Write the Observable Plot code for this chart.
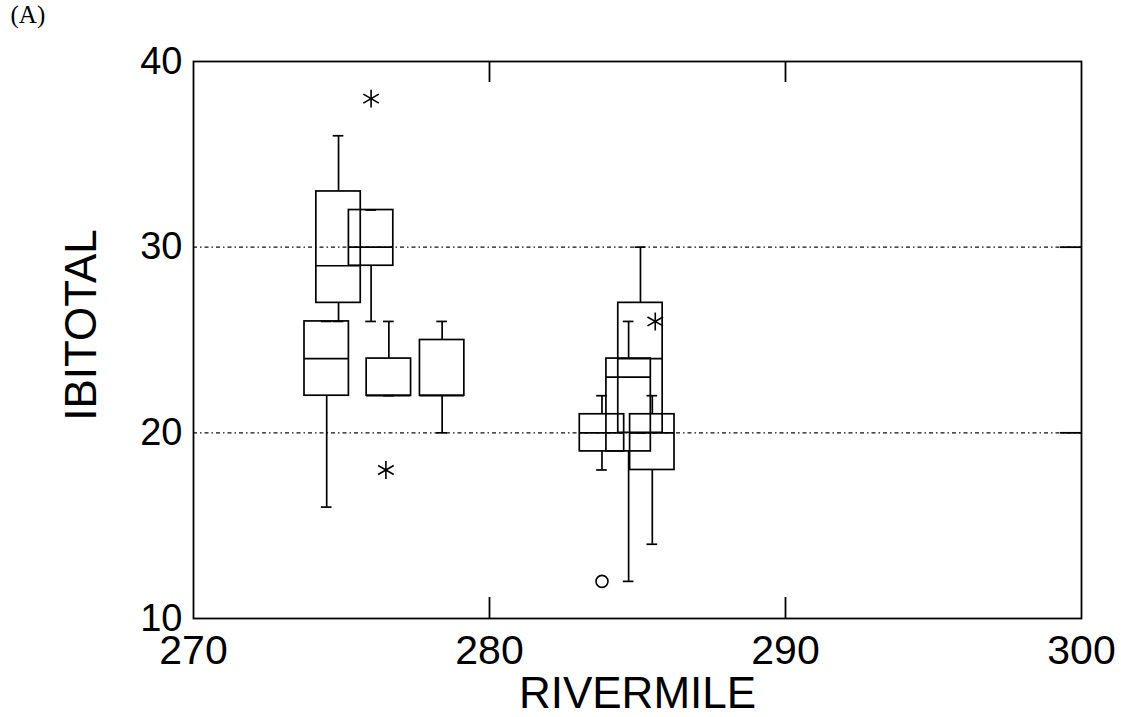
<!DOCTYPE html>
<html><head><meta charset="utf-8">
<script src="https://cdn.jsdelivr.net/npm/d3@7"></script>
<script src="https://cdn.jsdelivr.net/npm/@observablehq/plot@0.6"></script>
<style>html,body{margin:0;padding:0;background:#fff;overflow:hidden}</style>
</head><body><div id="chart"></div>
<script>
// Box summaries
const boxIds      = ["A", "B", "C", "D", "E", "H", "G", "F", "I"];
const riverMile   = [274.9, 274.5, 276.0, 276.6, 278.4, 283.8, 284.7, 285.1, 285.5];
const whiskerLow  = [26, 16, 26, 22, 20, 18, 12, 20, 14];
const q1          = [27, 22, 29, 22, 22, 19, 19, 20, 18];
const median      = [29, 24, 30, 22, 22, 20, 23, 24, 20];
const q3          = [33, 26, 32, 24, 25, 21, 24, 27, 21];
const whiskerHigh = [36, 26, 32, 26, 26, 22, 26, 30, 22];

// Outliers: "outside" drawn as asterisk, "far" drawn as open circle
const outlierMile  = [276.0, 276.5, 285.6, 283.8];
const outlierValue = [38, 18, 26, 12];
const outlierKind  = ["outside", "outside", "outside", "far"];

// Reference lines and ticks
const refLines = [20, 30];
const xTicks = [270, 280, 290, 300];
const yTicks = [10, 20, 30, 40];
const innerXTicks = [280, 290];
const innerYTicks = [20, 30];

const boxHalf = 0.75;
const capHalf = 0.18;

const boxes = boxIds.map((id, i) => ({
  id, mile: riverMile[i], lo: whiskerLow[i], q1: q1[i], med: median[i], q3: q3[i], hi: whiskerHigh[i]
}));
const outliers = outlierMile.map((m, i) => ({mile: m, value: outlierValue[i], kind: outlierKind[i]}));

const W = 1121, H = 717;
const mL = 193, mR = 40, mT = 61, mB = 99;
const frameW = W - mL - mR, frameH = H - mT - mB;
const tickLen = 21;

const chart = Plot.plot({
  width: W, height: H,
  marginLeft: mL, marginRight: mR, marginTop: mT, marginBottom: mB,
  style: {fontFamily: "'Liberation Sans', Arial, sans-serif", color: "black", background: "white"},
  x: {domain: [270, 300], ticks: xTicks},
  y: {domain: [10, 40], ticks: yTicks},
  marks: [
    Plot.ruleY(refLines, {stroke: "#111", strokeWidth: 1.4, strokeDasharray: "4,3,1.5,3"}),
    Plot.ruleX(boxes, {x: "mile", y1: "q3", y2: "hi", stroke: "black", strokeWidth: 1.7}),
    Plot.ruleX(boxes, {x: "mile", y1: "lo", y2: "q1", stroke: "black", strokeWidth: 1.7}),
    Plot.ruleY(boxes, {y: "hi", x1: d => d.mile - capHalf, x2: d => d.mile + capHalf, stroke: "black", strokeWidth: 1.7}),
    Plot.ruleY(boxes, {y: "lo", x1: d => d.mile - capHalf, x2: d => d.mile + capHalf, stroke: "black", strokeWidth: 1.7}),
    Plot.rect(boxes, {x1: d => d.mile - boxHalf, x2: d => d.mile + boxHalf, y1: "q1", y2: "q3", fill: "none", stroke: "black", strokeWidth: 1.7}),
    Plot.ruleY(boxes, {y: "med", x1: d => d.mile - boxHalf, x2: d => d.mile + boxHalf, stroke: "black", strokeWidth: 1.7}),
    Plot.dot(outliers.filter(d => d.kind === "outside"), {x: "mile", y: "value", symbol: "asterisk", r: 8.5, stroke: "black", strokeWidth: 1.6}),
    Plot.dot(outliers.filter(d => d.kind === "far"), {x: "mile", y: "value", symbol: "circle", r: 6, fill: "none", stroke: "black", strokeWidth: 1.6}),
    Plot.frame({stroke: "black", strokeWidth: 1.8}),
    Plot.ruleX(innerXTicks, {insetBottom: frameH - tickLen, stroke: "black", strokeWidth: 1.8}),
    Plot.ruleX(innerXTicks, {insetTop: frameH - tickLen, stroke: "black", strokeWidth: 1.8}),
    Plot.ruleY(innerYTicks, {insetLeft: frameW - tickLen, stroke: "black", strokeWidth: 1.8}),
    Plot.axisX(xTicks, {tickSize: 0, tickPadding: 16, fontSize: 41, label: null}),
    Plot.axisY(yTicks, {tickSize: 0, tickPadding: 11, fontSize: 38, label: null}),
    Plot.text(["RIVERMILE"], {frameAnchor: "bottom", dy: 89, fontSize: 44}),
    Plot.text(["IBITOTAL"], {frameAnchor: "left", textAnchor: "middle", rotate: -90, dx: -112, dy: -15, fontSize: 44}),
    Plot.text(["(A)"], {frameAnchor: "top-left", dx: -183, dy: -56, fontSize: 25, fontFamily: "'Liberation Serif', 'Times New Roman', serif"})
  ]
});
document.getElementById("chart").appendChild(chart);
</script>
</body></html>
